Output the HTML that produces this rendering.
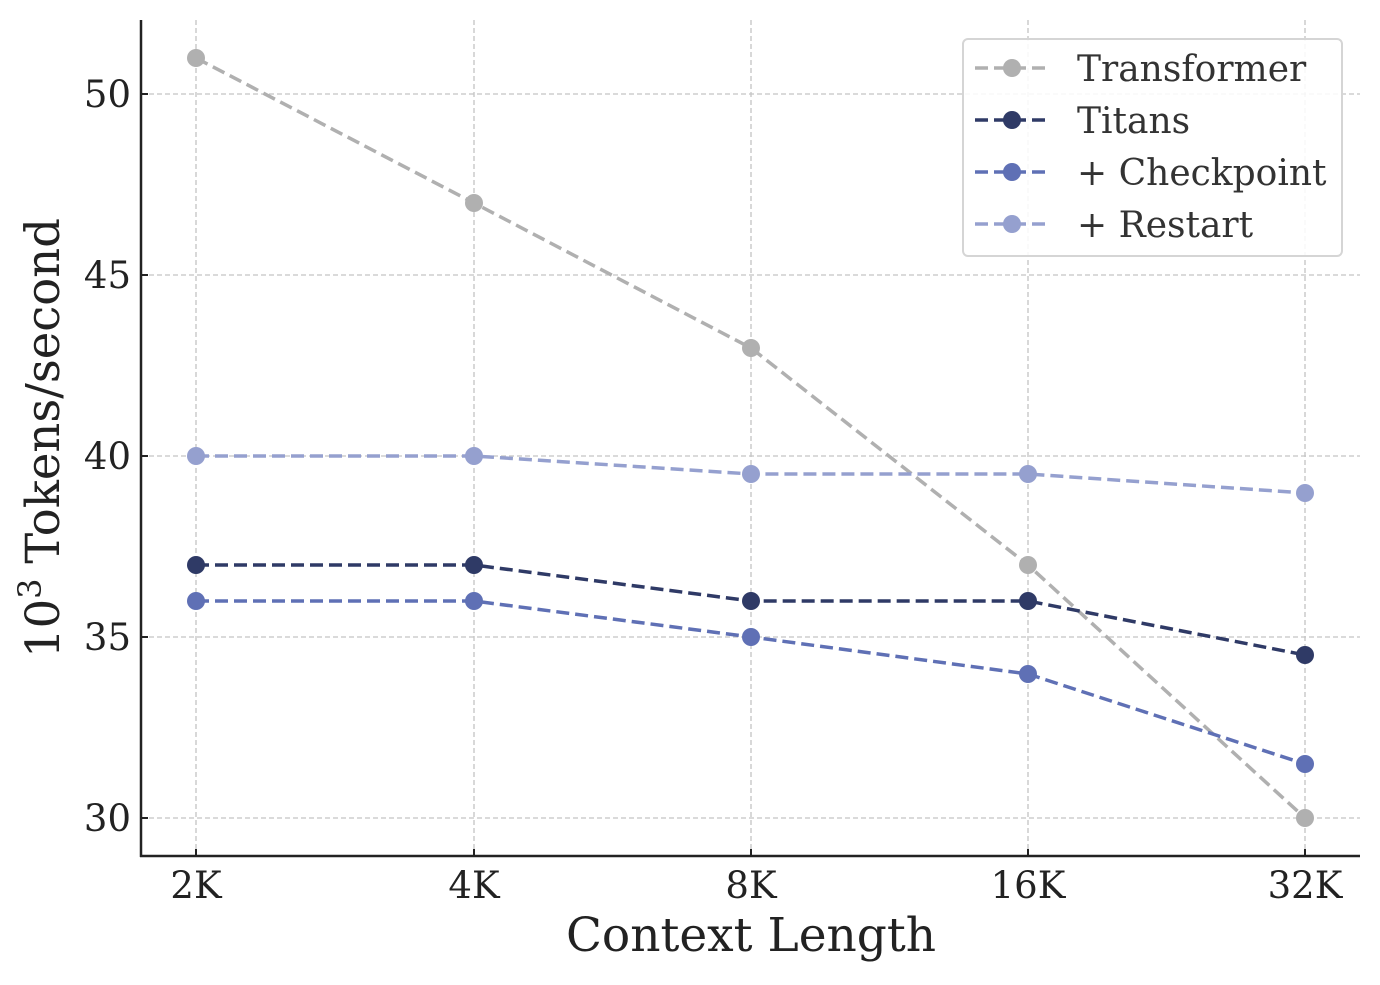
<!DOCTYPE html>
<html><head><meta charset="utf-8"><style>
html,body{margin:0;padding:0;background:#fff;}
svg text{font-family:"DejaVu Serif","Liberation Serif",serif;}
</style></head><body>
<svg width="1380" height="980" viewBox="0 0 1380 980" xmlns="http://www.w3.org/2000/svg">
<rect width="1380" height="980" fill="#fff"/>
<g stroke="#c4c4c4" stroke-width="1.3" stroke-dasharray="5,3">
<line x1="196" y1="20" x2="196" y2="856"/><line x1="474" y1="20" x2="474" y2="856"/><line x1="751" y1="20" x2="751" y2="856"/><line x1="1028" y1="20" x2="1028" y2="856"/><line x1="1305" y1="20" x2="1305" y2="856"/>
<line x1="141" y1="94" x2="1360" y2="94"/><line x1="141" y1="275" x2="1360" y2="275"/><line x1="141" y1="456" x2="1360" y2="456"/><line x1="141" y1="637" x2="1360" y2="637"/><line x1="141" y1="818" x2="1360" y2="818"/>
</g>
<g fill="none" stroke-width="3.5" stroke-dasharray="13,6">
<polyline stroke="#b0b0b0" points="196,58 474,203 751,348 1028,565 1305,818"/>
<polyline stroke="#95a0cf" points="196,456 474,456 751,474 1028,474 1305,493"/>
<polyline stroke="#2f3a66" points="196,565 474,565 751,601 1028,601 1305,655"/>
<polyline stroke="#5f70b5" points="196,601 474,601 751,637 1028,674 1305,764"/>
</g>
<g fill="#b0b0b0"><circle cx="196" cy="58" r="9"/><circle cx="474" cy="203" r="9"/><circle cx="751" cy="348" r="9"/><circle cx="1028" cy="565" r="9"/><circle cx="1305" cy="818" r="9"/></g>
<g fill="#95a0cf"><circle cx="196" cy="456" r="9"/><circle cx="474" cy="456" r="9"/><circle cx="751" cy="474" r="9"/><circle cx="1028" cy="474" r="9"/><circle cx="1305" cy="493" r="9"/></g>
<g fill="#2f3a66"><circle cx="196" cy="565" r="9"/><circle cx="474" cy="565" r="9"/><circle cx="751" cy="601" r="9"/><circle cx="1028" cy="601" r="9"/><circle cx="1305" cy="655" r="9"/></g>
<g fill="#5f70b5"><circle cx="196" cy="601" r="9"/><circle cx="474" cy="601" r="9"/><circle cx="751" cy="637" r="9"/><circle cx="1028" cy="674" r="9"/><circle cx="1305" cy="764" r="9"/></g>
<g stroke="#222" stroke-width="2.5" fill="none">
<line x1="141" y1="20" x2="141" y2="857"/><line x1="140" y1="856" x2="1360" y2="856"/>
</g>
<g stroke="#222" stroke-width="2">
<line x1="141" y1="94" x2="148" y2="94"/><line x1="141" y1="275" x2="148" y2="275"/><line x1="141" y1="456" x2="148" y2="456"/><line x1="141" y1="637" x2="148" y2="637"/><line x1="141" y1="818" x2="148" y2="818"/>
<line x1="196" y1="856" x2="196" y2="849"/><line x1="474" y1="856" x2="474" y2="849"/><line x1="751" y1="856" x2="751" y2="849"/><line x1="1028" y1="856" x2="1028" y2="849"/><line x1="1305" y1="856" x2="1305" y2="849"/>
</g>
<g font-size="37" fill="#222" text-anchor="end">
<text x="131" y="107">50</text><text x="131" y="288">45</text><text x="131" y="469">40</text><text x="131" y="650">35</text><text x="131" y="831">30</text>
</g>
<g font-size="37" fill="#222" text-anchor="middle">
<text x="196" y="898">2K</text><text x="474" y="898">4K</text><text x="751" y="898">8K</text><text x="1028" y="898">16K</text><text x="1305" y="898">32K</text>
</g>
<text x="751" y="951" font-size="47" fill="#222" text-anchor="middle">Context Length</text>
<text transform="translate(59,438) rotate(-90)" font-size="46.5" fill="#222" text-anchor="middle">10<tspan font-size="32" dy="-18">3</tspan><tspan dy="18"> Tokens/second</tspan></text>
<rect x="963" y="39" width="379" height="217" rx="5" fill="#fff" fill-opacity="0.85" stroke="#d5d5d5" stroke-width="2"/>
<g stroke-width="3.5" stroke-dasharray="13,6">
<line x1="975" y1="68" x2="1050" y2="68" stroke="#b0b0b0"/>
<line x1="975" y1="120" x2="1050" y2="120" stroke="#2f3a66"/>
<line x1="975" y1="172" x2="1050" y2="172" stroke="#5f70b5"/>
<line x1="975" y1="224" x2="1050" y2="224" stroke="#95a0cf"/>
</g>
<circle cx="1012" cy="68" r="9" fill="#b0b0b0"/><circle cx="1012" cy="120" r="9" fill="#2f3a66"/><circle cx="1012" cy="172" r="9" fill="#5f70b5"/><circle cx="1012" cy="224" r="9" fill="#95a0cf"/>
<g font-size="36" fill="#333">
<text x="1077" y="81">Transformer</text><text x="1077" y="133">Titans</text><text x="1077" y="185">+ Checkpoint</text><text x="1077" y="237">+ Restart</text>
</g>
</svg>
</body></html>
